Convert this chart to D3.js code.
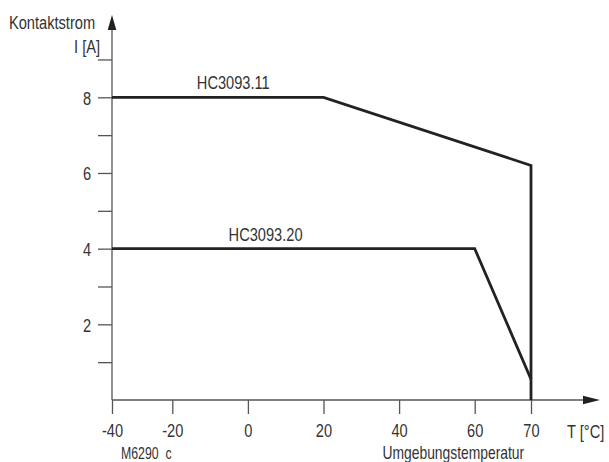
<!DOCTYPE html>
<html><head><meta charset="utf-8">
<script src="https://cdn.jsdelivr.net/npm/d3@7"></script>
<style>
html,body{margin:0;padding:0;background:#fff;}
svg{display:block;}
text{font-family:"Liberation Sans",Arial,sans-serif;fill:#333;}
</style></head>
<body>
<svg id="c" width="609" height="462"></svg>
<script>
// Data
const xTicks = [-40, -20, 0, 20, 40, 60, 70];
const yTicks = [1, 2, 3, 4, 5, 6, 7, 8, 9];
const yLabelled = [2, 4, 6, 8];
const seriesNames = ["HC3093.11", "HC3093.20"];
const hc311T = [-40, 20, 70, 70];
const hc311I = [8, 8, 6.2, 0];
const hc320T = [-40, 60, 70];
const hc320I = [4, 4, 0.55];
const yTitle = ["Kontaktstrom", "I [A]"];
const xUnit = "T [°C]";
const xTitle = "Umgebungstemperatur";
const figCode = "M6290  c";

const SX = 0.77; // horizontal condensing of the typeface
const svg = d3.select("#c");
// piecewise x scale (the drawing compresses -40..-20 and stretches 60..70)
const x = d3.scaleLinear().domain([-40, -20, 60, 70]).range([112, 172.3, 474.7, 531]);
const y = d3.scaleLinear().domain([0, 8]).range([400, 97.3]);

const axisColor = "#555";

function addText(px, py, str, size, anchor) {
  return svg.append("text")
    .attr("transform", `translate(${px},${py}) scale(${SX},1)`)
    .attr("font-size", size)
    .attr("text-anchor", anchor || "start")
    .attr("xml:space", "preserve").style("white-space", "pre")
    .text(str);
}

// Y axis
const yAx = svg.append("g").attr("transform", `translate(${x(-40)},0)`)
  .call(d3.axisLeft(y).tickValues(yTicks).tickSize(14).tickPadding(7)
    .tickFormat(d => yLabelled.includes(d) ? d : ""));
yAx.select(".domain").remove();
yAx.selectAll(".tick line").attr("stroke", axisColor).attr("stroke-width", 1.3);
yAx.selectAll(".tick text").attr("font-size", 19).attr("dy", "0.36em")
  .attr("x", -21 / SX).attr("transform", `scale(${SX},1)`)
  .style("font-family", '"Liberation Sans",Arial,sans-serif').attr("fill", "#333");

// X axis
const xAx = svg.append("g").attr("transform", `translate(0,${y(0)})`)
  .call(d3.axisBottom(x).tickValues(xTicks).tickSize(14).tickPadding(10).tickFormat(d => d));
xAx.select(".domain").remove();
xAx.selectAll(".tick line").attr("stroke", axisColor).attr("stroke-width", 1.3);
xAx.selectAll(".tick text").attr("font-size", 19).attr("dy", "0.71em")
  .attr("transform", `scale(${SX},1)`)
  .style("font-family", '"Liberation Sans",Arial,sans-serif').attr("fill", "#333");

// Axis lines with arrows
const x0 = x(-40), y0 = y(0);
svg.append("line").attr("x1", x0).attr("x2", x0).attr("y1", y0).attr("y2", 28)
  .attr("stroke", axisColor).attr("stroke-width", 1.3);
svg.append("path").attr("d", `M${x0},15 L${x0-4.3},30 L${x0+4.3},30 Z`).attr("fill", "#222");
svg.append("line").attr("x1", x0).attr("x2", 585).attr("y1", y0).attr("y2", y0)
  .attr("stroke", axisColor).attr("stroke-width", 1.3);
svg.append("path").attr("d", `M600,${y0} L583,${y0-4.3} L583,${y0+4.3} Z`).attr("fill", "#222");

// Series lines
const line = d3.line().x(d => x(d[0])).y(d => y(d[1]));
const s311 = hc311T.map((t, i) => [t, hc311I[i]]);
const s320 = hc320T.map((t, i) => [t, hc320I[i]]);
[s311, s320].forEach(s => {
  svg.append("path").datum(s).attr("d", line).attr("fill", "none")
    .attr("stroke", "#222").attr("stroke-width", 2.8).attr("stroke-linejoin", "miter");
});

// Series labels
addText(x(-13.5), y(8) - 8, seriesNames[0], 19);
addText(x(-5.1), y(4) - 8, seriesNames[1], 19);

// Axis titles
addText(9, 29, yTitle[0], 19);
addText(100, 53, yTitle[1], 19, "end");
addText(567, 438, xUnit, 19);
addText(382.5, 459, xTitle, 18);
addText(121, 459, figCode, 16);
</script>
</body></html>
